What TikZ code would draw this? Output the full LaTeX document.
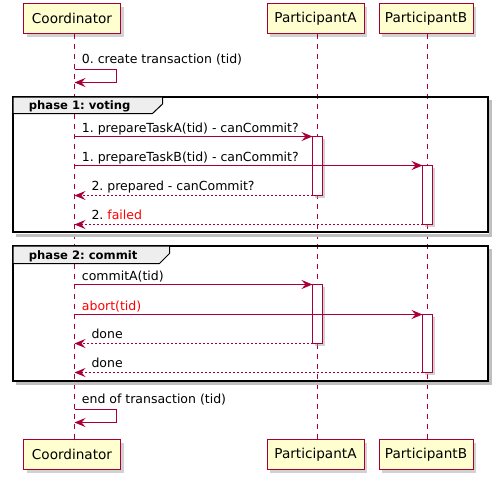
\documentclass[tikz,border=0pt]{standalone}
\usepackage{fontspec}
\setmainfont{DejaVu Sans}
\usetikzlibrary{arrows.meta,shadows}
\definecolor{umlred}{HTML}{A80036}
\definecolor{umlfill}{HTML}{FEFECE}
\definecolor{tabfill}{HTML}{EEEEEE}
\definecolor{alert}{HTML}{FF0000}
\frenchspacing
\begin{document}
\begin{tikzpicture}[x=1pt,y=-1pt,
  head/.style={draw=umlred, fill=umlfill, line width=1pt, inner sep=0pt, outer sep=0pt,
    minimum height=30pt, font=\fontsize{13.6}{16}\selectfont,
    drop shadow={shadow xshift=3pt, shadow yshift=-3pt, fill=black!35, opacity=0.5}},
  life/.style={draw=umlred, line width=1pt, dash pattern=on 5pt off 5pt},
  actbox/.style={draw=umlred, fill=white, line width=1pt, inner sep=0pt, outer sep=0pt,
    minimum width=10pt, anchor=north west,
    drop shadow={shadow xshift=2pt, shadow yshift=-2pt, fill=black!35, opacity=0.5}},
  msg/.style={draw=umlred, line width=1pt, -{Stealth[length=11pt,width=9pt,inset=4pt]}},
  reply/.style={msg, dash pattern=on 2pt off 2pt},
  msgtext/.style={font=\fontsize{12.5}{15}\selectfont, inner sep=0pt, anchor=base west},
  frameline/.style={draw=black, line width=2pt},
  frameshadow/.style={draw=black!25, line width=3pt},
  tabshape/.style={draw=black, line width=1pt, fill=tabfill},
  tabtext/.style={font=\bfseries\fontsize{11.6}{14}\selectfont, inner sep=0pt, anchor=base west},
]
\useasboundingbox (0,0) rectangle (497,479);

% participant heads, top and bottom
\node[head, minimum width=97pt] (coordTop) at (72,18.5) {Coordinator};
\node[head, minimum width=97pt] (aTop)     at (315.5,18.5) {ParticipantA};
\node[head, minimum width=94pt] (bTop)     at (426,18.5) {ParticipantB};
\node[head, minimum width=97pt] (coordBot) at (72,454.5) {Coordinator};
\node[head, minimum width=97pt] (aBot)     at (315.5,454.5) {ParticipantA};
\node[head, minimum width=94pt] (bBot)     at (426,454.5) {ParticipantB};

% lifelines
\coordinate (cL) at (74.5,0);
\coordinate (aL) at (317.5,0);
\coordinate (bL) at (427.5,0);
\draw[life] (coordTop.south -| cL) -- (coordBot.north -| cL);
\draw[life] (aTop.south -| aL) -- (aBot.north -| aL);
\draw[life] (bTop.south -| bL) -- (bBot.north -| bL);

% 0. self message
\coordinate (s0a) at (74.5,69.5);
\coordinate (s0b) at (74.5,82.5);
\node[msgtext] (t0) at (81.7,63.3) {0. create transaction (tid)};
\draw[msg] (s0a) -| ++(42,13) -- (s0b);

% group frame: phase 1
\draw[frameshadow] (490.7,100) -- (490.7,235.3) -- (16,235.3);
\draw[frameline] (13,97) rectangle (488,232);
\draw[tabshape] (13,97) -- (162.5,97) -- (162.5,104) -- (152.5,113.5) -- (13,113.5) -- cycle;
\node[tabtext] (g1) at (28.7,109.6) {phase 1: voting};

% phase 1 messages
\node[actbox, minimum height=59pt] (actA1) at (312.5,136.5) {};
\node[actbox, minimum height=59pt] (actB1) at (422.5,165.5) {};
\coordinate (m1) at (74.5,136.5);
\coordinate (m2) at (74.5,165.5);
\coordinate (m3) at (74.5,195.5);
\coordinate (m4) at (74.5,224.5);
\node[msgtext] (t1) at (81.7,132.5) {1. prepareTaskA(tid) - canCommit?};
\draw[msg] (m1) -- (actA1.north west);
\node[msgtext] (t2) at (81.7,161.5) {1. prepareTaskB(tid) - canCommit?};
\draw[msg] (m2) -- (actB1.north west);
\node[msgtext] (t3) at (91.3,190) {2. prepared - canCommit?};
\draw[reply] (actA1.south west) -- (m3);
\node[msgtext] (t4) at (91.3,219.3) {2. \textcolor{alert}{failed}};
\draw[reply] (actB1.south west) -- (m4);

% group frame: phase 2
\draw[frameshadow] (490.7,249) -- (490.7,383.7) -- (16,383.7);
\draw[frameline] (13,246) rectangle (488,381);
\draw[tabshape] (13,246) -- (169.5,246) -- (169.5,253.5) -- (159.5,263.5) -- (13,263.5) -- cycle;
\node[tabtext] (g2) at (28.7,259.6) {phase 2: commit};

% phase 2 messages
\node[actbox, minimum height=59pt] (actA2) at (312.5,284.5) {};
\node[actbox, minimum height=58pt] (actB2) at (422.5,314.5) {};
\coordinate (n1) at (74.5,284.5);
\coordinate (n2) at (74.5,314.5);
\coordinate (n3) at (74.5,343.5);
\coordinate (n4) at (74.5,372.5);
\node[msgtext] (u1) at (81.7,280) {commitA(tid)};
\draw[msg] (n1) -- (actA2.north west);
\node[msgtext, text=alert] (u2) at (81.7,310) {abort(tid)};
\draw[msg] (n2) -- (actB2.north west);
\node[msgtext] (u3) at (91.3,338.3) {done};
\draw[reply] (actA2.south west) -- (n3);
\node[msgtext] (u4) at (91.3,367.3) {done};
\draw[reply] (actB2.south west) -- (n4);

% closing self message
\coordinate (e0a) at (74.5,409.5);
\coordinate (e0b) at (74.5,422.5);
\node[msgtext] (te) at (81.7,403.3) {end of transaction (tid)};
\draw[msg] (e0a) -| ++(42,13) -- (e0b);
\end{tikzpicture}
\end{document}
